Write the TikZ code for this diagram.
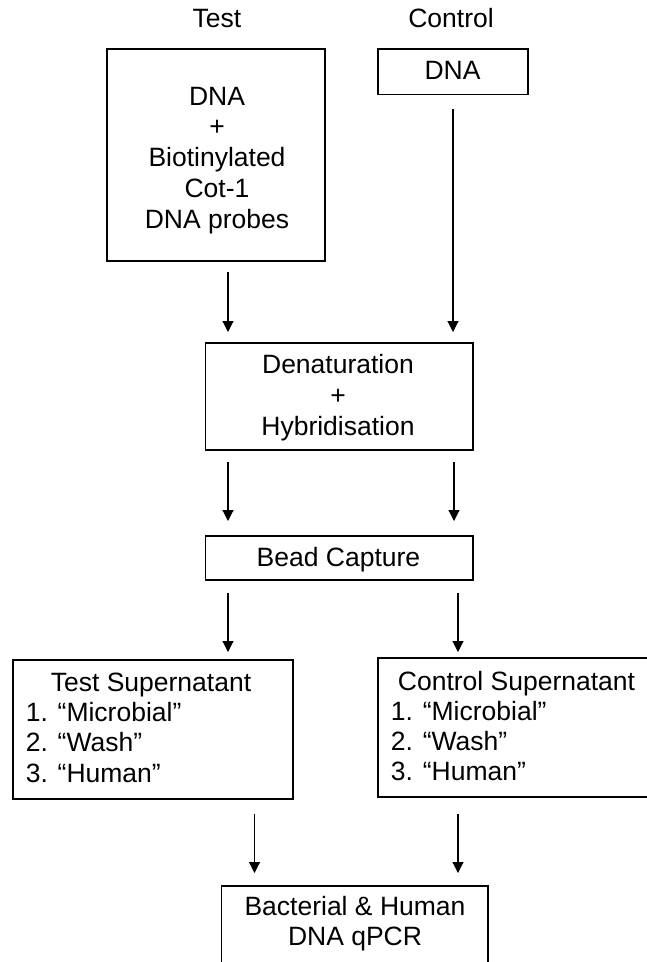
\documentclass[tikz,border=0pt]{standalone}
\usepackage{fontspec}
\setmainfont{Liberation Sans}
\usetikzlibrary{arrows.meta}
\tikzset{
  box/.style={draw, line width=1.3pt, inner sep=0pt},
  lbl/.style={anchor=base, inner sep=0pt, font=\fontsize{26.5}{30}\selectfont},
  lblw/.style={anchor=base west, inner sep=0pt, font=\fontsize{26.5}{30}\selectfont},
  arr/.style={-{Triangle[length=11pt,width=11pt]}, line width=1.1pt}
}
\begin{document}
\begin{tikzpicture}[x=1pt,y=-1pt]
\useasboundingbox (0,0) rectangle (647,962);
% headings
\node[lbl] (hTest) at (217,27) {Test};
\node[lbl] (hCtrl) at (451,27) {Control};
% test box
\node[box, minimum width=218pt, minimum height=212pt] (testbox) at (216,155) {};
\node[lbl] (t1) at (217,105) {DNA};
\node[lbl] (t2) at (217,135.75) {+};
\node[lbl] (t3) at (217,166.5) {Biotinylated};
\node[lbl] (t4) at (217,197.25) {Cot-1};
\node[lbl] (t5) at (217,228) {DNA probes};
% control DNA box
\node[box, minimum width=150pt, minimum height=45.5pt] (ctrlbox) at (453,71.75) {};
\node[lbl] (c1) at (452.5,79) {DNA};
% denaturation box
\node[box, minimum width=267.5pt, minimum height=107pt] (denbox) at (339.25,396.5) {};
\node[lbl] (d1) at (338,373) {Denaturation};
\node[lbl] (d2) at (338,404) {+};
\node[lbl] (d3) at (338,435) {Hybridisation};
% bead capture
\node[box, minimum width=267.5pt, minimum height=44pt] (beadbox) at (339.25,558) {};
\node[lbl] (b1) at (338.5,566) {Bead Capture};
% test supernatant
\node[box, minimum width=280pt, minimum height=139pt] (tsbox) at (153,729.5) {};
\node[lbl] (ts0) at (151,691) {Test Supernatant};
\node[lblw] (ts1) at (25.6,721.5) {1. “Microbial”};
\node[lblw] (ts2) at (25.6,751.5) {2. “Wash”};
\node[lblw] (ts3) at (25.6,782) {3. “Human”};
% control supernatant
\node[box, minimum width=282pt, minimum height=139pt] (csbox) at (519,727.5) {};
\node[lbl] (cs0) at (516.5,690) {Control Supernatant};
\node[lblw] (cs1) at (390.7,720.5) {1. “Microbial”};
\node[lblw] (cs2) at (390.7,750) {2. “Wash”};
\node[lblw] (cs3) at (390.7,780) {3. “Human”};
% bottom box
\node[box, minimum width=266.3pt, minimum height=89pt] (qbox) at (354.85,930.5) {};
\node[lbl] (q1) at (355,915) {Bacterial \& Human};
\node[lbl] (q2) at (355,945) {DNA qPCR};
% arrow endpoints
\coordinate (a1s) at (228,272);   \coordinate (a1e) at (228,332);
\coordinate (a2s) at (453,109);   \coordinate (a2e) at (453,332);
\coordinate (a3s) at (228,462);   \coordinate (a3e) at (228,521);
\coordinate (a4s) at (454,462);   \coordinate (a4e) at (454,521);
\coordinate (a5s) at (228,593);   \coordinate (a5e) at (228,652);
\coordinate (a6s) at (458,593);   \coordinate (a6e) at (458,652);
\coordinate (a7s) at (254.5,814); \coordinate (a7e) at (254.5,873);
\coordinate (a8s) at (458,814);   \coordinate (a8e) at (458,873);
\draw[arr] (a1s) -- (a1e);
\draw[arr] (a2s) -- (a2e);
\draw[arr] (a3s) -- (a3e);
\draw[arr] (a4s) -- (a4e);
\draw[arr] (a5s) -- (a5e);
\draw[arr] (a6s) -- (a6e);
\draw[arr] (a7s) -- (a7e);
\draw[arr] (a8s) -- (a8e);
\end{tikzpicture}
\end{document}
